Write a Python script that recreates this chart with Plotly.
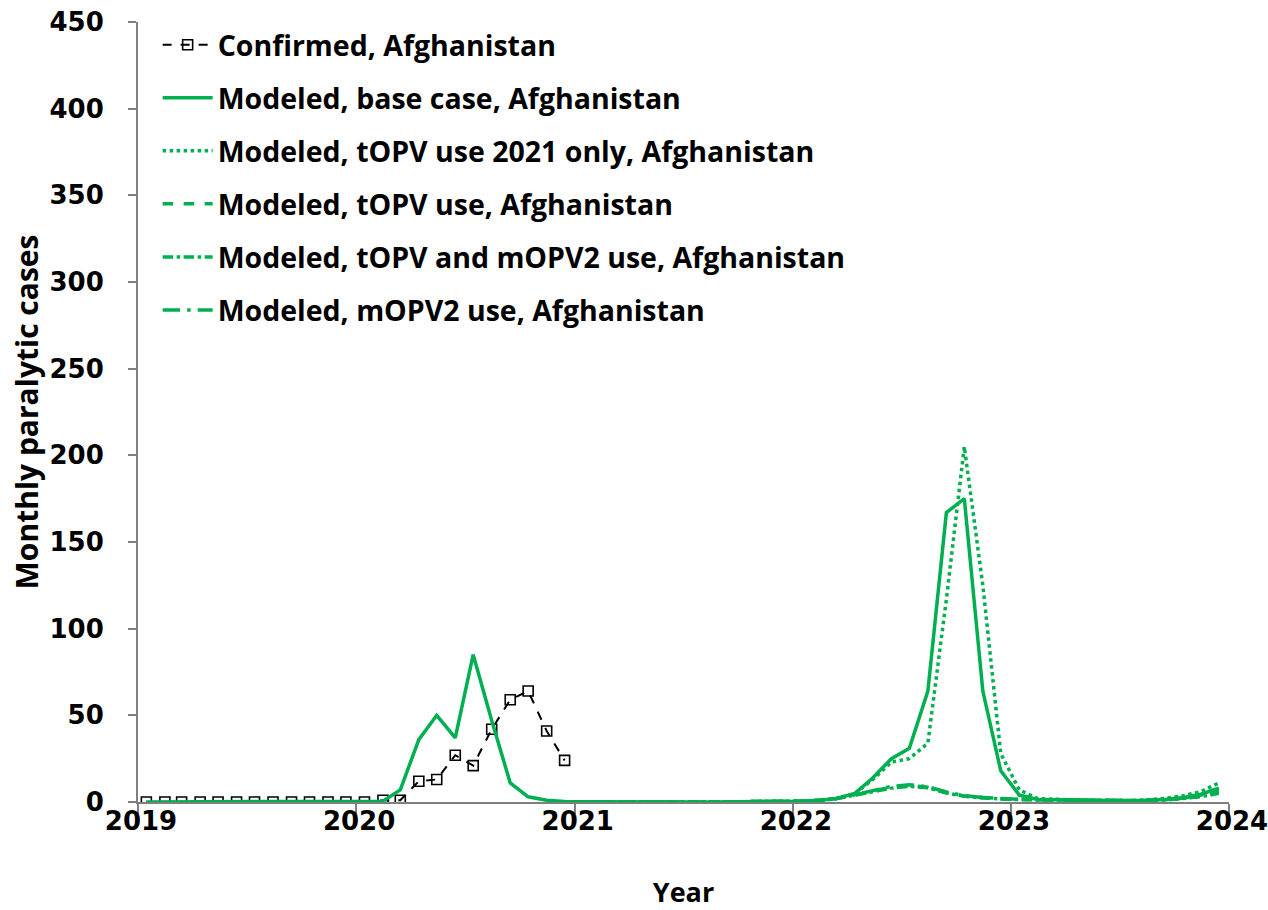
import plotly.graph_objects as go

# Monthly time points (mid-month)
months_2019_2020 = [f"{y}-{m:02d}-15" for y in (2019, 2020) for m in range(1, 13)]
months_2019_2023 = [f"{y}-{m:02d}-15" for y in range(2019, 2024) for m in range(1, 13)]
months_2021_2023 = [f"{y}-{m:02d}-15" for y in range(2021, 2024) for m in range(1, 13)]

# Confirmed paralytic cases, Afghanistan (Jan 2019 - Dec 2020)
confirmed = [0, 0, 0, 0, 0, 0, 0, 0, 0, 0, 0, 0,
             0, 1, 1, 12, 13, 27, 21, 42, 59, 64, 41, 24]

# Modeled base case (Jan 2019 - Dec 2023)
base_case = [0, 0, 0, 0, 0, 0, 0, 0, 0, 0, 0, 0,
             0, 0.5, 7, 36, 50, 37, 85, 47, 11, 3, 1, 0.3,
             0.1, 0, 0, 0, 0, 0, 0, 0, 0, 0, 0.1, 0.2,
             0.5, 1, 2, 5, 14, 25, 31, 64, 167, 175, 64, 18,
             4, 1.5, 1.5, 1.2, 1, 0.8, 0.8, 1, 1.5, 2.5, 4.5, 8]

# Scenarios (Jan 2021 - Dec 2023)
topv_2021_only = [0.1, 0, 0, 0, 0, 0, 0, 0, 0, 0, 0.1, 0.2,
                  0.5, 1, 2, 5, 13, 23, 25, 34, 117, 205, 125, 28,
                  7, 2, 1.5, 1.2, 1, 0.8, 0.8, 1.2, 2, 3.5, 6, 11]
topv_use = [0.1, 0, 0, 0, 0, 0, 0, 0, 0, 0, 0.1, 0.2,
            0.5, 1, 2, 4, 6.5, 8.5, 9.5, 8.5, 5.5, 3.5, 2.5, 1.8,
            1.5, 1.3, 1.2, 1, 0.8, 0.6, 0.6, 0.8, 1.2, 2, 3.5, 6]
topv_mopv2_use = [0.1, 0, 0, 0, 0, 0, 0, 0, 0, 0, 0.1, 0.2,
                  0.5, 1, 2, 4, 6.2, 8, 9, 8.2, 5.2, 3.3, 2.3, 1.7,
                  1.4, 1.2, 1.1, 0.9, 0.7, 0.5, 0.5, 0.7, 1.1, 1.8, 3, 5]
mopv2_use = [0.1, 0, 0, 0, 0, 0, 0, 0, 0, 0, 0.1, 0.2,
             0.5, 1, 2, 4.2, 6.8, 9, 10, 8.8, 5.8, 3.7, 2.6, 1.9,
             1.5, 1.3, 1.2, 1, 0.8, 0.6, 0.6, 0.8, 1.3, 2.2, 4, 7]

year_ticks = ["2019-01-01", "2020-01-01", "2021-01-01", "2022-01-01", "2023-01-01", "2024-01-01"]
year_labels = ["2019", "2020", "2021", "2022", "2023", "2024"]
y_ticks = [0, 50, 100, 150, 200, 250, 300, 350, 400, 450]

GREEN = "#00B050"
AXIS_GREY = "#7f7f7f"
TEXT_FONT = "Open Sans"
TICK_FONT = dict(family="DejaVu Sans", size=26, color="black", weight="bold")

fig = go.Figure()

fig.add_trace(go.Scatter(
    x=months_2019_2020, y=confirmed, mode="lines+markers",
    name="Confirmed, Afghanistan", legendgroup="g1",
    line=dict(color="black", width=2, dash="dash"),
    marker=dict(symbol="square-open", size=10, color="black", line=dict(width=1.6)),
))
fig.add_trace(go.Scatter(
    x=months_2019_2023, y=base_case, mode="lines",
    name="Modeled, base case, Afghanistan", legendgroup="g2",
    line=dict(color=GREEN, width=3.5),
))
fig.add_trace(go.Scatter(
    x=months_2021_2023, y=topv_2021_only, mode="lines",
    name="Modeled, tOPV use 2021 only, Afghanistan", legendgroup="g3",
    line=dict(color=GREEN, width=3.5, dash="dot"),
))
fig.add_trace(go.Scatter(
    x=months_2021_2023, y=topv_use, mode="lines",
    name="Modeled, tOPV use, Afghanistan", legendgroup="g4",
    line=dict(color=GREEN, width=3.5, dash="dash"),
))
fig.add_trace(go.Scatter(
    x=months_2021_2023, y=topv_mopv2_use, mode="lines",
    name="Modeled, tOPV and mOPV2 use, Afghanistan", legendgroup="g5",
    line=dict(color=GREEN, width=3.5, dash="dashdot"),
))
fig.add_trace(go.Scatter(
    x=months_2021_2023, y=mopv2_use, mode="lines",
    name="Modeled, mOPV2 use, Afghanistan", legendgroup="g6",
    line=dict(color=GREEN, width=3.5, dash="longdashdot"),
))

fig.update_layout(
    width=1268, height=910,
    margin=dict(l=138, r=39, t=22, b=108),
    paper_bgcolor="white", plot_bgcolor="white",
    showlegend=True,
    legend=dict(
        x=0.018, y=1.003, xanchor="left", yanchor="top",
        font=dict(family=TEXT_FONT, size=28.5, color="black", weight="bold"),
        bgcolor="rgba(0,0,0,0)",
        traceorder="grouped", tracegroupgap=13, itemwidth=50,
    ),
    xaxis=dict(
        type="date", range=["2019-01-01", "2024-01-01"],
        tickvals=year_ticks, ticktext=year_labels,
        showgrid=False, zeroline=False, automargin=False,
        showline=True, linecolor=AXIS_GREY, linewidth=2,
        ticks="outside", ticklen=10, tickwidth=2, tickcolor=AXIS_GREY,
        tickfont=TICK_FONT, ticklabelstandoff=-15, ticklabelshift=3,
        ticklabeloverflow="allow",
        title=dict(text="Year", font=dict(family=TEXT_FONT, size=27, color="black", weight="bold"), standoff=49),
    ),
    yaxis=dict(
        range=[0, 450], tickvals=y_ticks,
        showgrid=False, zeroline=False, automargin=False,
        showline=True, linecolor=AXIS_GREY, linewidth=2,
        ticks="outside", ticklen=8, tickwidth=2, tickcolor=AXIS_GREY,
        tickfont=TICK_FONT, ticklabelstandoff=19,
        title=dict(text="Monthly paralytic cases", font=dict(family=TEXT_FONT, size=30, color="black", weight="bold"), standoff=2),
    ),
)

fig.write_html("out.html")
